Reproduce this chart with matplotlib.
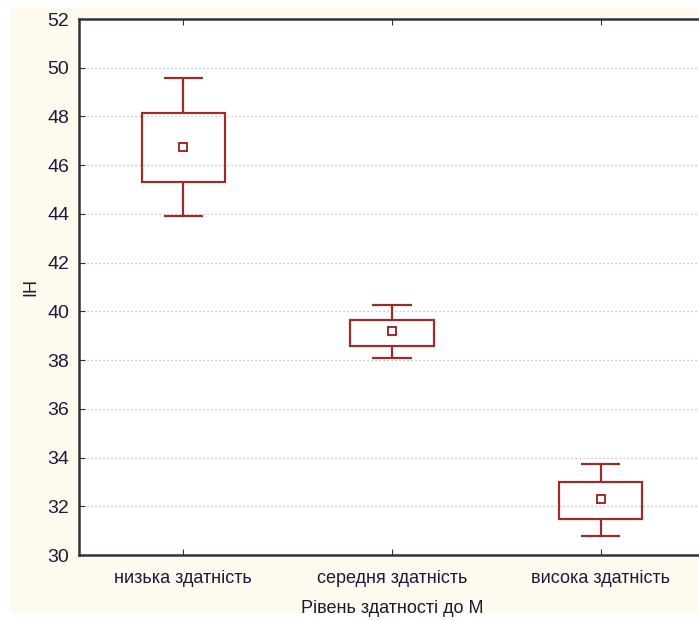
import matplotlib
matplotlib.use("Agg")
import matplotlib.pyplot as plt
from matplotlib.patches import Rectangle
import numpy as np

categories = ["низька здатність", "середня здатність", "висока здатність"]
means = [46.75, 39.2, 32.3]
box_low = [45.31, 38.58, 31.48]
box_high = [48.14, 39.65, 33.0]
whisk_low = [43.92, 38.09, 30.78]
whisk_high = [49.58, 40.26, 33.74]
yticks = [30, 32, 34, 36, 38, 40, 42, 44, 46, 48, 50, 52]

plt.rcParams['font.family'] = ['Liberation Sans', 'DejaVu Sans']
color = '#9c2b2b'
textc = '#1a1a3a'

fig = plt.figure(figsize=(6.99, 6.21), dpi=100)
fig.patch.set_facecolor('white')
fig.patches.append(Rectangle((10/699, 1-613/621), (699-10)/699, (613-7)/621,
                             transform=fig.transFigure, facecolor='#fffaee',
                             edgecolor='none', zorder=-10))

ax = fig.add_axes([79/699, (621-555)/621, (705-79)/699, (555-19)/621])
ax.set_facecolor('white')
x = np.arange(len(categories))
bw = 0.40
cw = 0.19
ax.bar(x, np.array(box_high) - np.array(box_low), bottom=box_low, width=bw,
       facecolor='none', edgecolor=color, linewidth=1.6, zorder=3)
ax.vlines(x, box_high, whisk_high, color=color, linewidth=1.6, zorder=3)
ax.vlines(x, whisk_low, box_low, color=color, linewidth=1.6, zorder=3)
ax.hlines(whisk_high, x - cw/2, x + cw/2, color=color, linewidth=1.6, zorder=3)
ax.hlines(whisk_low, x - cw/2, x + cw/2, color=color, linewidth=1.6, zorder=3)
ax.plot(x, means, linestyle='none', marker='s', markersize=6,
        markerfacecolor='white', markeredgecolor=color, markeredgewidth=1.4, zorder=4)

ax.set_xlim(-0.5, 2.5)
ax.set_ylim(30, 52)
ax.set_yticks(yticks)
ax.set_xticks(x)
ax.set_xticklabels(categories, fontsize=13, color=textc)
ax.tick_params(axis='y', labelsize=14, labelcolor=textc, direction='in', length=4,
               color='#333333', pad=7)
ax.tick_params(axis='x', direction='in', length=4, color='#333333', top=True, pad=11)
for yv in yticks[1:-1]:
    ax.axhline(yv, color='#c4c4c4', linestyle=(0, (1.2, 2.0)), linewidth=0.9, zorder=1)
for s in ['left', 'bottom', 'top']:
    ax.spines[s].set_color('#333333')
    ax.spines[s].set_linewidth(1.8)
ax.spines['right'].set_visible(False)

ax.set_xlabel("Рівень здатності до М", fontsize=13, color=textc, labelpad=9)
ax.set_ylabel("IH", fontsize=13, color=textc, labelpad=6)

fig.savefig("out.png", dpi=100, facecolor='white')
